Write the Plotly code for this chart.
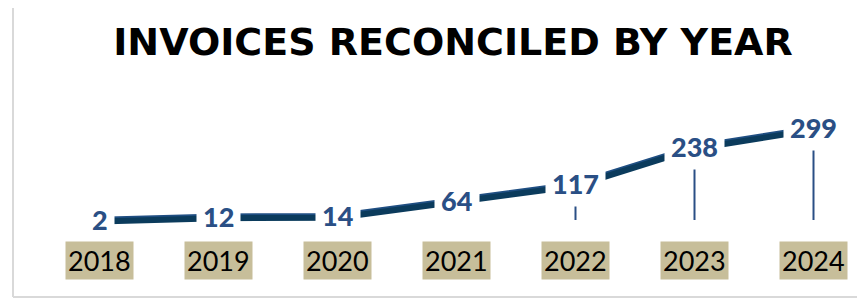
import plotly.graph_objects as go

categories = ["2018", "2019", "2020", "2021", "2022", "2023", "2024"]
invoices = [2, 12, 14, 64, 117, 238, 299]
title_text = "INVOICES RECONCILED BY YEAR"

W, H = 865, 303
OFF = 8  # page body margin offset
ML, MR = 40 - OFF, 865 - 40 - 825
PW = W - ML - MR
px_per_unit = 0.308
zero_px = 220 - OFF
y_top = zero_px / px_per_unit
y_bot = -(H - zero_px) / px_per_unit
shift = 2.0 / px_per_unit

idx = list(range(len(categories)))

fig = go.Figure()
fig.add_trace(go.Scatter(x=categories, y=invoices, mode="lines", yaxis="y2",
                         line=dict(color="#0b3b5c", width=6), hoverinfo="skip"))
fig.add_trace(go.Scatter(x=categories, y=invoices, mode="lines",
                         line=dict(color="#1f4e82", width=5.5), hoverinfo="skip"))

shapes = []
for i, v in zip(idx, invoices):
    shapes.append(dict(type="line", xref="x", yref="y", x0=i, x1=i, y0=0, y1=v,
                       line=dict(color="#2a4f85", width=2), layer="below"))
bx = (13 - OFF - ML) / PW
by = (H - (297 - OFF)) / H
shapes.append(dict(type="line", xref="paper", yref="paper", x0=bx, x1=bx, y0=by, y1=1.05,
                   line=dict(color="#d9d9d9", width=2)))
shapes.append(dict(type="line", xref="paper", yref="paper", x0=bx, x1=1.05, y0=by, y1=by,
                   line=dict(color="#d9d9d9", width=2)))

annotations = []
for i, c, v in zip(idx, categories, invoices):
    annotations.append(dict(x=i, y=v, xref="x", yref="y", text=str(v), showarrow=False,
                            xanchor="center", yanchor="middle", bgcolor="white", borderpad=6,
                            font=dict(family="Lato", size=27, color="#2a4f85", weight=900)))
    annotations.append(dict(x=i, y=(H - (260 - OFF)) / H, xref="x", yref="paper", text=c,
                            showarrow=False, xanchor="center", yanchor="middle",
                            bgcolor="#c7be9a", borderpad=2,
                            font=dict(family="Lato", size=27, color="black")))

fig.update_layout(
    width=W, height=H,
    margin=dict(l=ML, r=MR, t=0, b=0),
    paper_bgcolor="white", plot_bgcolor="white",
    showlegend=False,
    title=dict(text=title_text, x=(453 - OFF) / W, xref="container", xanchor="center",
               y=1 - (41.5 - OFF) / H, yref="container", yanchor="middle",
               font=dict(family="DejaVu Sans", size=38, color="black", weight="bold")),
    xaxis=dict(type="category", range=[-0.5, 6.5], showgrid=False, zeroline=False,
               showticklabels=False, showline=False, ticks=""),
    yaxis=dict(range=[y_bot, y_top], showgrid=False, zeroline=False,
               showticklabels=False, showline=False, ticks=""),
    yaxis2=dict(range=[y_bot + shift, y_top + shift], overlaying="y", showgrid=False,
                zeroline=False, showticklabels=False, showline=False, ticks=""),
    shapes=shapes,
    annotations=annotations,
)

fig.write_html("out.html")
